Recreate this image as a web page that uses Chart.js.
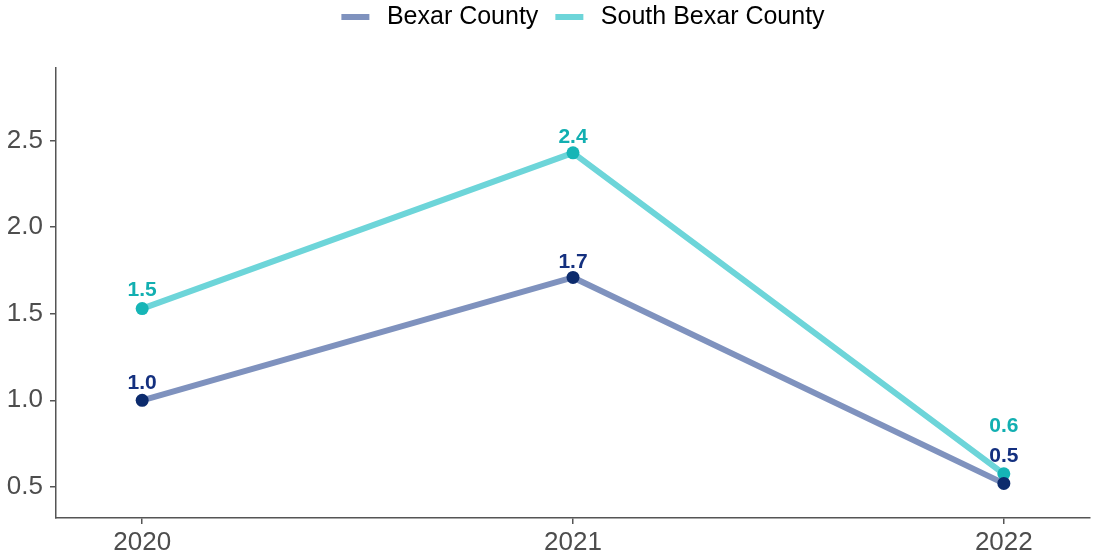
<!DOCTYPE html>
<html>
<head>
<meta charset="utf-8">
<script src="https://cdn.jsdelivr.net/npm/chart.js@4/dist/chart.umd.min.js"></script>
<style>
html,body{margin:0;padding:0;background:#fff;}
#wrap{width:1097px;height:559px;}
</style>
</head>
<body>
<div id="wrap"><canvas id="c" width="1097" height="559"></canvas></div>
<script>
const years = [2020, 2021, 2022];
const bexar = [1.0, 1.71, 0.52];
const southBexar = [1.53, 2.43, 0.575];
const bexarLabels = ["1.0", "1.7", "0.5"];
const southLabels = ["1.5", "2.4", "0.6"];
const yTicks = [0.5, 1.0, 1.5, 2.0, 2.5];

const FONT = "'Liberation Sans', Arial, sans-serif";

const valueLabels = {
  id: 'valueLabels',
  afterDatasetsDraw(chart, args, opts) {
    const ctx = chart.ctx;
    ctx.save();
    ctx.font = 'bold 21px ' + FONT;
    ctx.textAlign = 'center';
    ctx.textBaseline = 'middle';
    chart.data.datasets.forEach((ds, i) => {
      const meta = chart.getDatasetMeta(i);
      const cfg = opts.sets[i];
      meta.data.forEach((pt, j) => {
        ctx.fillStyle = cfg.color;
        ctx.fillText(cfg.labels[j], pt.x, pt.y - cfg.offsets[j]);
      });
    });
    ctx.restore();
  }
};

const legendPlace = {
  id: 'legendPlace',
  beforeInit(chart, args, opts) {
    const lg = chart.legend;
    if (!lg) return;
    const origFit = lg.fit;
    lg.fit = function () {
      origFit.call(this);
      this.height = opts.height;
    };
  },
  afterLayout(chart, args, opts) {
    const lg = chart.legend;
    if (!lg) return;
    lg.top = opts.top;
    lg.left += opts.dx;
    lg.right += opts.dx;
  }
};

new Chart(document.getElementById('c'), {
  type: 'line',
  data: {
    datasets: [
      {
        label: 'Bexar County',
        data: years.map((y, i) => ({x: y, y: bexar[i]})),
        borderColor: '#7f92be',
        backgroundColor: '#7f92be',
        borderWidth: 6,
        pointRadius: 6.5,
        pointHoverRadius: 6.5,
        pointBackgroundColor: '#0c2b6d',
        pointBorderWidth: 0,
        tension: 0
      },
      {
        label: 'South Bexar County',
        data: years.map((y, i) => ({x: y, y: southBexar[i]})),
        borderColor: '#6dd5d9',
        backgroundColor: '#6dd5d9',
        borderWidth: 6,
        pointRadius: 6.5,
        pointHoverRadius: 6.5,
        pointBackgroundColor: '#16b5b6',
        pointBorderWidth: 0,
        tension: 0
      }
    ]
  },
  options: {
    responsive: false,
    animation: false,
    devicePixelRatio: 1,
    layout: { padding: { top: 0, right: 7, left: 0, bottom: 0 } },
    plugins: {
      tooltip: { enabled: false },
      legendPlace: { height: 68, top: -12.5, dx: 38 },
      legend: {
        position: 'top',
        align: 'center',
        labels: {
          font: { size: 25, family: FONT },
          color: '#222222',
          boxWidth: 28,
          boxHeight: 6,
          padding: 17,
          generateLabels(chart) {
            return chart.data.datasets.map((ds, i) => ({
              text: '\u2009' + ds.label,
              fillStyle: ds.borderColor,
              strokeStyle: ds.borderColor,
              lineWidth: 0,
              datasetIndex: i
            }));
          }
        }
      },
      valueLabels: {
        sets: [
          { color: '#14307f', labels: bexarLabels, offsets: [17, 15, 27] },
          { color: '#12afb1', labels: southLabels, offsets: [18, 16, 48] }
        ]
      }
    },
    scales: {
      x: {
        type: 'linear',
        min: 2019.8,
        max: 2022.2,
        afterBuildTicks(scale) { scale.ticks = years.map(v => ({value: v})); },
        afterFit(scale) { scale.height = 41; },
        ticks: {
          font: { size: 26, family: FONT },
          color: '#4d4d4d',
          padding: 3,
          callback: v => String(v)
        },
        grid: { display: true, drawOnChartArea: false, drawTicks: true, tickLength: 6, color: '#555', lineWidth: 1.5 },
        border: { display: true, color: '#555', width: 1.5 }
      },
      y: {
        min: 0.32,
        max: 2.92,
        afterBuildTicks(scale) { scale.ticks = yTicks.map(v => ({value: v})); },
        afterFit(scale) { scale.width = 56; },
        ticks: {
          font: { size: 26, family: FONT },
          color: '#4d4d4d',
          padding: 7,
          callback: v => v.toFixed(1)
        },
        grid: { display: true, drawOnChartArea: false, drawTicks: true, tickLength: 6, color: '#555', lineWidth: 1.5 },
        border: { display: true, color: '#555', width: 1.5 }
      }
    }
  },
  plugins: [valueLabels, legendPlace]
});
</script>
</body>
</html>
